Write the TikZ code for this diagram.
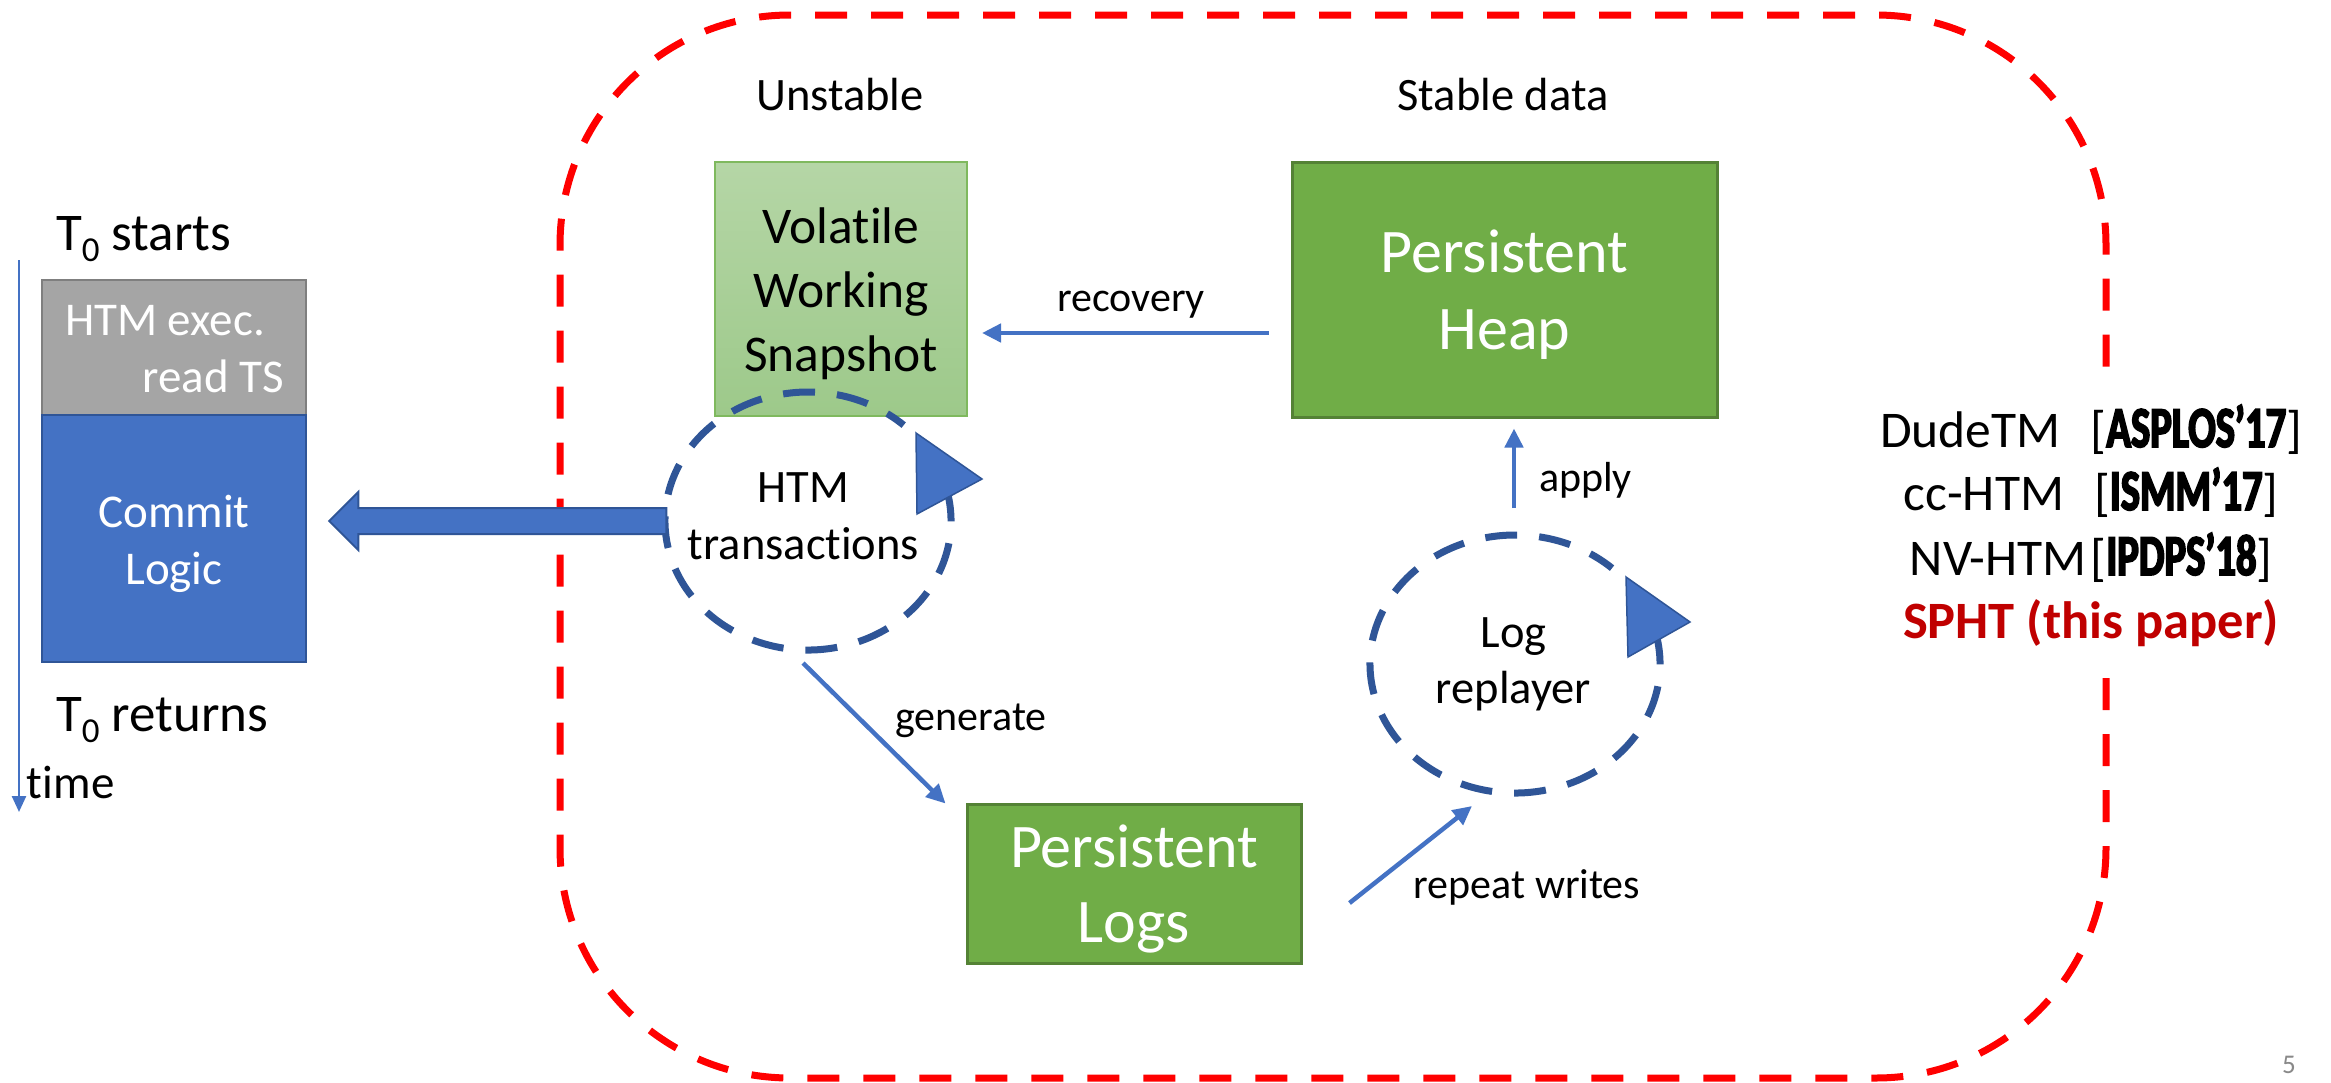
\documentclass[tikz,border=0pt]{standalone}
\usepackage{fontspec}
\setmainfont{Carlito}[Ligatures=NoCommon]
% heavy, narrow face for the venue tags
\newfontfamily\venuefont[FakeStretch=0.7,FakeBold=3,Ligatures=NoCommon]{Carlito}
\usetikzlibrary{arrows.meta,shapes.geometric}

\definecolor{arrowblue}{HTML}{4472C4}
\definecolor{darkblue}{HTML}{2F5597}
\definecolor{heapgreen}{HTML}{70AD47}
\definecolor{heapborder}{HTML}{548235}
\definecolor{voltop}{HTML}{B5D6A6}
\definecolor{volbot}{HTML}{9DC98A}
\definecolor{volborder}{HTML}{7FB95E}
\definecolor{execgray}{HTML}{A5A5A5}
\definecolor{execborder}{HTML}{7F7F7F}
\definecolor{sphtred}{HTML}{C00000}
\definecolor{framered}{HTML}{FF0000}
\definecolor{pagegray}{HTML}{898989}

\begin{document}
\begin{tikzpicture}[x=1pt,y=-1pt,
  txt/.style={inner sep=0pt, outer sep=0pt, anchor=base},
  f27/.style={font=\fontsize{27}{32}\selectfont},
  f42/.style={font=\fontsize{42}{50}\selectfont},
  f46/.style={font=\fontsize{46.5}{56}\selectfont},
  f47/.style={font=\fontsize{47}{56}\selectfont},
  f51/.style={font=\fontsize{51.5}{62}\selectfont},
  f53/.style={font=\fontsize{53}{64}\selectfont},
  f62/.style={font=\fontsize{62}{74}\selectfont},
  graybox/.style={draw=execborder, fill=execgray, line width=2pt, inner sep=0pt},
  commitbox/.style={draw=darkblue, fill=arrowblue, line width=2.5pt, inner sep=0pt},
  volbox/.style={draw=volborder, top color=voltop, bottom color=volbot, line width=2pt, inner sep=0pt},
  heapbox/.style={draw=heapborder, fill=heapgreen, line width=3pt, inner sep=0pt},
  flow/.style={draw=arrowblue, line width=4.5pt, -{Triangle[length=19pt,width=18pt]}},
  timeline/.style={draw=arrowblue, line width=2.5pt, -{Triangle[length=16pt,width=14pt]}},
  blockarrow/.style={fill=arrowblue, draw=darkblue, line width=2pt, line join=miter},
  loopdash/.style={draw=darkblue, line width=7pt, dash pattern=on 32pt off 22pt},
  looptip/.style={fill=arrowblue, draw=darkblue, line width=1.5pt, line join=miter},
  reddash/.style={draw=framered, line width=7pt, dash pattern=on 32pt off 24pt},
  ring/.style={ellipse, inner sep=0pt, outer sep=0pt}
]
\useasboundingbox (0,0) rectangle (2331,1082);
\fill[white] (0,0) rectangle (2331,1082);

% ---------- red dashed frame (right side broken around the reference list) ----------
\draw[reddash] (2106,678) -- (2106,848)
  arc[start angle=0, end angle=90, radius=230] -- (790,1078)
  arc[start angle=90, end angle=180, radius=230] -- (560,245)
  arc[start angle=180, end angle=270, radius=230] -- (1876,15)
  arc[start angle=270, end angle=360, radius=230] -- (2106,372);

% ---------- time line on the left ----------
\coordinate (taxtop) at (19,260);
\coordinate (taxbot) at (19,812);
\draw[timeline] (taxtop) -- (taxbot);
\node[txt, anchor=base west, f53] (tstarts) at (56,250)
  {T\raisebox{-11pt}{\fontsize{35}{35}\selectfont 0} starts};
\node[txt, anchor=base west, f53] (treturns) at (56,731)
  {T\raisebox{-11pt}{\fontsize{35}{35}\selectfont 0} returns};
\node[txt, anchor=base west, f47] (timelbl) at (27,798) {time};

\node[graybox, minimum width=264pt, minimum height=135pt] (exec) at (174,347.5) {};
\node[txt, anchor=base west, f47, text=white] (execa) at (65,335) {HTM exec.};
\node[txt, anchor=base east, f47, text=white] (execb) at (284,392) {read TS};

\node[commitbox, minimum width=264pt, minimum height=247pt] (commit) at (174,538.5) {};
\node[txt, f47, text=white] (commita) at (174,527) {Commit};
\node[txt, f47, text=white] (commitb) at (174,584) {Logic};

% ---------- column headings ----------
\node[txt, f46] (unstable) at (840,110) {Unstable};
\node[txt, f46] (stable) at (1503,110) {Stable data};

% ---------- volatile snapshot and persistent heap ----------
\node[volbox, minimum width=252pt, minimum height=254pt] (vol) at (841,289) {};
\node[txt, f51] (vola) at (841,243) {Volatile};
\node[txt, f51] (volb) at (841,307) {Working};
\node[txt, f51] (volc) at (841,371) {Snapshot};

\node[heapbox, minimum width=425pt, minimum height=255pt] (heap) at (1504.5,289.5) {};
\node[txt, f62, text=white] (heapa) at (1504.5,272) {Persistent};
\node[txt, f62, text=white] (heapb) at (1504.5,349) {Heap};

\draw[flow] ([shift={(-22,43.5)}]heap.west) -- ([shift={(14,44)}]vol.east);
\node[txt, f42] (recovery) at (1131,311) {recovery};

% ---------- HTM transactions loop ----------
\node[ring, minimum width=286pt, minimum height=258pt] (htm) at (808,521) {};
\draw[loopdash] (htm.center) ++(-14:143 and 129)
  arc[start angle=-14, end angle=312, x radius=143, y radius=129];
\path[looptip] ([shift={(108,-88)}]htm.center) -- ([shift={(174,-42)}]htm.center)
  -- ([shift={(109,-7)}]htm.center) -- cycle;
\node[txt, f46] (htma) at (803.5,502) {HTM};
\node[txt, f46] (htmb) at (803.5,559) {transactions};

% block arrow from the transactions to the commit logic
\path (commit.east |- htm.center) ++(22,0) coordinate (blocktip);
\path[blockarrow] (blocktip) -- ++(29,-29) -- ++(0,16) -- ++(308,0) -- ++(0,26)
  -- ++(-308,0) -- ++(0,16) -- cycle;

% ---------- persistent logs ----------
\node[heapbox, minimum width=334pt, minimum height=159pt] (logs) at (1134,883.5) {};
\node[txt, f62, text=white] (logsa) at (1134,867) {Persistent};
\node[txt, f62, text=white] (logsb) at (1134,942) {Logs};

\draw[flow] ([shift={(-5,13)}]htm.south) -- ([shift={(-20,1)}]logs.north west);
\node[txt, f42] (generate) at (971,730) {generate};

% ---------- log replayer loop ----------
\node[ring, minimum width=290pt, minimum height=258pt] (replay) at (1515,664) {};
\draw[loopdash] (replay.center) ++(-14:145 and 129)
  arc[start angle=-14, end angle=312, x radius=145, y radius=129];
\path[looptip] ([shift={(111,-87)}]replay.center) -- ([shift={(175,-42)}]replay.center)
  -- ([shift={(113,-7)}]replay.center) -- cycle;
\node[txt, f46] (replaya) at (1513.5,647) {Log};
\node[txt, f46] (replayb) at (1513.5,703) {replayer};

\draw[flow] ([shift={(47,19.5)}]logs.east) -- ([shift={(-43,13)}]replay.south);
\node[txt, f42] (repeat) at (1527,898) {repeat writes};

\draw[flow] ([shift={(-1,-27)}]replay.north) -- ([shift={(9.5,10)}]heap.south);
\node[txt, anchor=base west, f42] (apply) at (1539,491) {apply};

% ---------- related systems ----------
\node[txt, f51] (dude) at (2091,447) {DudeTM\hspace{30pt}[{\venuefont\bfseries\fontsize{58}{62}\selectfont ASPLOS’17}]};
\node[txt, f51] (cchtm) at (2091,510) {cc-HTM\hspace{30pt}[{\venuefont\bfseries\fontsize{58}{62}\selectfont ISMM’17}]};
\node[txt, f51] (nvhtm) at (2091,575) {NV-HTM\hspace{4pt}[{\venuefont\bfseries\fontsize{58}{62}\selectfont IPDPS’18}]};
\node[txt, font=\bfseries\fontsize{52.5}{62}\selectfont, text=sphtred] (spht) at (2091,638) {SPHT (this paper)};

\node[txt, anchor=base west, f27, text=pagegray] (pnum) at (2282,1073) {5};
\end{tikzpicture}
\end{document}
